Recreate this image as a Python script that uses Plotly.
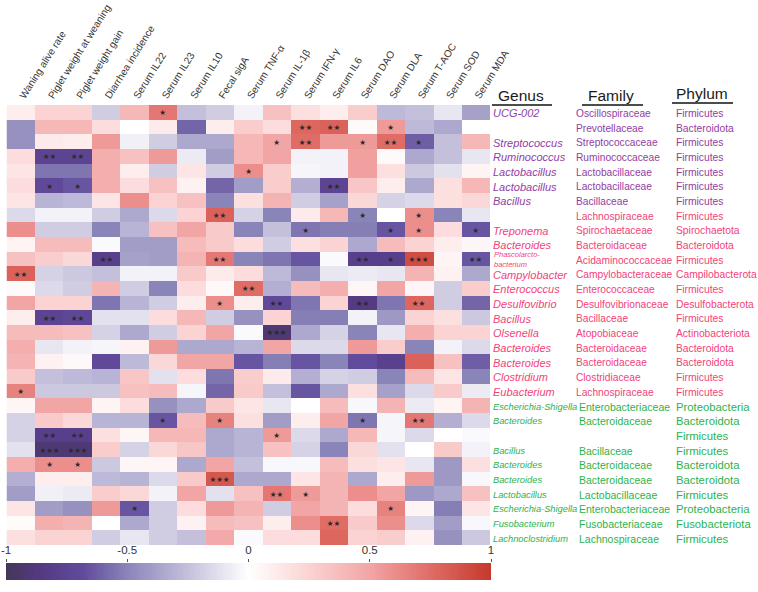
import numpy as np
import plotly.graph_objects as go

indicators = ["Waning alive rate", "Piglet weight at weaning", "Piglet weight gain",
              "Diarrhea incidence", "Serum IL22", "Serum IL23", "Serum IL10", "Fecal sigA",
              "Serum TNF-α", "Serum IL-1β", "Serum IFN-γ", "Serum IL6", "Serum DAO",
              "Serum DLA", "Serum T-AOC", "Serum SOD", "Serum MDA"]

genus = ["UCG-002", "", "Streptococcus", "Ruminococcus", "Lactobacillus", "Lactobacillus",
         "Bacillus", "", "Treponema", "Bacteroides", "Phascolarcto-<br>bacterium", "Campylobacter",
         "Enterococcus", "Desulfovibrio", "Bacillus", "Olsenella", "Bacteroides", "Bacteroides",
         "Clostridium", "Eubacterium", "Escherichia-Shigella", "Bacteroides", "", "Bacillus",
         "Bacteroides", "Bacteroides", "Lactobacillus", "Escherichia-Shigella", "Fusobacterium",
         "Lachnoclostridium"]
family = ["Oscillospiraceae", "Prevotellaceae", "Streptococcaceae", "Ruminococcaceae",
          "Lactobacillaceae", "Lactobacillaceae", "Bacillaceae", "Lachnospiraceae",
          "Spirochaetaceae", "Bacteroidaceae", "Acidaminococcaceae", "Campylobacteraceae",
          "Enterococcaceae", "Desulfovibrionaceae", "Bacillaceae", "Atopobiaceae",
          "Bacteroidaceae", "Bacteroidaceae", "Clostridiaceae", "Lachnospiraceae",
          "Enterobacteriaceae", "Bacteroidaceae", "", "Bacillaceae", "Bacteroidaceae",
          "Bacteroidaceae", "Lactobacillaceae", "Enterobacteriaceae", "Fusobacteriaceae",
          "Lachnospiraceae"]
phylum = ["Firmicutes", "Bacteroidota", "Firmicutes", "Firmicutes", "Firmicutes", "Firmicutes",
          "Firmicutes", "Firmicutes", "Spirochaetota", "Bacteroidota", "Firmicutes",
          "Campilobacterota", "Firmicutes", "Desulfobacterota", "Firmicutes", "Actinobacteriota",
          "Bacteroidota", "Bacteroidota", "Firmicutes", "Firmicutes", "Proteobacteria",
          "Bacteroidota", "Firmicutes", "Firmicutes", "Bacteroidota", "Bacteroidota",
          "Firmicutes", "Proteobacteria", "Fusobacteriota", "Firmicutes"]
group = ["A"] * 7 + ["B"] * 13 + ["C"] * 10

corr = [
    [0.1, 0.25, 0.25, -0.2, 0.4, 0.7, -0.25, -0.2, -0.05, 0.35, 0.18, 0.1, 0.28, -0.28, -0.25, -0.1, -0.38],
    [-0.45, 0.4, 0.4, 0.2, 0.0, 0.12, -0.6, 0.1, 0.28, 0.2, 0.78, 0.8, 0.03, 0.55, -0.28, -0.35, 0.0],
    [-0.45, 0.12, 0.1, 0.55, -0.06, -0.2, -0.35, -0.35, 0.4, 0.5, 0.75, 0.55, 0.55, 0.75, -0.62, -0.25, 0.4],
    [0.2, -0.75, -0.75, 0.45, 0.35, 0.55, -0.08, -0.4, 0.4, 0.5, -0.05, -0.05, 0.52, 0.03, -0.35, -0.25, -0.1],
    [0.15, -0.55, -0.55, 0.45, 0.1, -0.2, 0.15, -0.2, 0.6, 0.28, -0.04, -0.05, 0.52, 0.18, -0.22, -0.12, 0.06],
    [0.2, -0.7, -0.65, 0.45, 0.2, 0.35, 0.08, -0.6, -0.4, 0.28, -0.32, -0.75, 0.32, 0.1, -0.35, 0.18, 0.4],
    [0.15, -0.3, -0.28, 0.15, 0.6, 0.25, 0.35, -0.5, 0.18, 0.42, -0.2, -0.38, 0.22, -0.18, -0.15, 0.18, 0.22],
    [-0.15, -0.05, -0.05, -0.2, -0.35, -0.15, 0.25, 0.8, -0.18, -0.5, 0.12, 0.4, -0.5, 0.0, 0.6, -0.5, -0.1],
    [0.6, -0.2, -0.2, -0.5, -0.3, 0.35, 0.5, 0.3, -0.5, -0.25, -0.55, -0.52, -0.52, -0.65, 0.6, 0.2, -0.65],
    [0.06, 0.38, 0.38, -0.02, -0.4, -0.4, 0.38, 0.3, 0.2, -0.2, 0.18, 0.25, -0.35, 0.38, 0.25, 0.1, 0.05],
    [0.35, 0.28, 0.22, -0.8, -0.38, -0.4, 0.42, 0.7, -0.5, -0.55, -0.65, -0.02, -0.8, -0.8, 0.9, 0.06, -0.65],
    [0.8, -0.18, -0.22, -0.25, -0.05, -0.05, 0.3, 0.12, 0.2, -0.28, -0.45, -0.1, -0.08, -0.1, 0.42, 0.08, -0.35],
    [0.03, -0.15, -0.2, 0.42, -0.2, -0.5, 0.2, 0.04, 0.75, -0.32, 0.38, 0.45, 0.05, 0.5, 0.05, -0.2, 0.28],
    [0.5, 0.25, 0.25, -0.55, -0.3, -0.2, 0.1, 0.6, 0.1, -0.7, -0.55, 0.25, -0.85, -0.55, 0.78, -0.2, -0.6],
    [0.1, -0.75, -0.72, -0.12, -0.12, 0.2, 0.4, -0.2, -0.45, 0.25, -0.52, -0.52, -0.05, -0.42, 0.25, 0.18, -0.22],
    [0.38, 0.38, 0.35, -0.18, -0.35, -0.2, 0.25, 0.5, -0.02, -0.9, -0.35, -0.18, -0.5, -0.1, 0.45, 0.25, 0.25],
    [0.45, -0.1, -0.05, -0.04, 0.08, 0.55, -0.35, -0.35, -0.3, 0.5, -0.15, -0.15, 0.55, 0.28, -0.5, -0.05, -0.15],
    [0.42, 0.08, 0.04, -0.7, -0.28, 0.22, 0.5, 0.5, -0.65, -0.52, -0.65, -0.5, -0.68, -0.78, 0.8, 0.35, -0.62],
    [0.3, -0.25, -0.28, -0.3, 0.32, -0.12, 0.2, -0.55, 0.28, 0.12, -0.32, -0.18, -0.2, -0.5, 0.38, 0.15, -0.5],
    [0.65, -0.22, -0.22, -0.22, 0.35, 0.38, -0.04, -0.6, 0.3, -0.25, -0.65, -0.35, 0.18, -0.38, -0.15, 0.3, -0.08],
    [0.05, 0.5, 0.5, 0.06, 0.2, -0.45, -0.35, 0.3, 0.15, -0.1, 0.0, 0.38, -0.03, 0.42, -0.08, 0.06, 0.42],
    [-0.18, 0.3, 0.22, -0.3, -0.3, -0.65, 0.38, 0.65, 0.18, -0.4, 0.1, 0.5, -0.55, -0.04, 0.7, -0.32, -0.15],
    [-0.18, -0.8, -0.8, 0.18, 0.05, 0.4, 0.4, -0.35, -0.3, 0.55, -0.15, -0.35, 0.4, -0.04, -0.15, 0.0, -0.02],
    [-0.12, -0.9, -0.9, 0.28, -0.18, 0.22, 0.32, -0.35, -0.3, 0.35, -0.18, -0.5, 0.22, -0.12, 0.0, 0.3, -0.05],
    [0.45, 0.6, 0.6, -0.22, 0.05, 0.05, -0.35, 0.5, -0.25, -0.03, -0.03, 0.38, 0.18, 0.15, -0.1, -0.42, 0.18],
    [-0.32, 0.1, 0.1, -0.28, -0.3, -0.15, 0.3, 0.85, -0.35, -0.35, 0.15, 0.42, -0.35, 0.1, 0.55, -0.42, -0.03],
    [-0.4, -0.06, -0.08, 0.28, 0.22, -0.05, 0.5, -0.12, 0.35, 0.7, 0.55, 0.42, 0.6, 0.5, -0.42, -0.35, 0.35],
    [0.15, -0.4, -0.45, 0.55, -0.65, -0.2, 0.2, 0.55, 0.42, -0.2, 0.5, 0.42, 0.2, 0.65, 0.06, -0.52, 0.15],
    [0.02, 0.45, 0.42, 0.0, -0.35, -0.2, 0.08, 0.38, 0.35, 0.1, 0.6, 0.75, 0.3, 0.6, -0.15, -0.4, -0.03],
    [0.18, 0.25, 0.25, -0.2, -0.1, -0.2, -0.25, 0.48, -0.02, 0.2, 0.2, 0.78, 0.25, 0.28, 0.08, -0.45, -0.22],
]

# significance marks: (row, column, number of stars)
signif = [
    (0, 5, 1), (1, 10, 2), (1, 11, 2), (1, 13, 1),
    (2, 9, 1), (2, 10, 2), (2, 12, 1), (2, 13, 2), (2, 14, 1),
    (3, 1, 2), (3, 2, 2), (4, 8, 1), (5, 1, 1), (5, 2, 1), (5, 11, 2),
    (7, 7, 2), (7, 12, 1), (7, 14, 1),
    (8, 10, 1), (8, 13, 1), (8, 14, 1), (8, 16, 1),
    (10, 3, 2), (10, 7, 2), (10, 12, 2), (10, 13, 1), (10, 14, 3), (10, 16, 2),
    (11, 0, 2), (12, 8, 2), (13, 7, 1), (13, 9, 2), (13, 12, 2), (13, 14, 2),
    (14, 1, 2), (14, 2, 2), (15, 9, 3), (19, 0, 1),
    (21, 5, 1), (21, 7, 1), (21, 12, 1), (21, 14, 2),
    (22, 1, 2), (22, 2, 2), (22, 9, 1), (23, 1, 3), (23, 2, 3), (24, 1, 1), (24, 2, 1),
    (25, 7, 3), (26, 9, 2), (26, 10, 1), (27, 4, 1), (27, 13, 1), (28, 11, 2),
]

scale_ticks = [-1, -0.5, 0, 0.5, 1]
scale_labels = ["-1", "-0.5", "0", "0.5", "1"]

W, H = 758, 592
colorscale = [
    [0.0, "#45365a"], [0.08, "#553b85"], [0.16, "#614b9c"], [0.25, "#8a85b8"],
    [0.375, "#c4c0dc"], [0.5, "#ffffff"], [0.625, "#fbd3d3"], [0.75, "#f2a5a5"],
    [0.875, "#e06c66"], [1.0, "#c5392b"],
]

nrow, ncol = len(corr), len(indicators)
star_text = [["" for _ in range(ncol)] for _ in range(nrow)]
for r, c, n in signif:
    star_text[r][c] = "★" * n

fig = go.Figure()
fig.add_trace(go.Heatmap(
    z=corr, x=list(range(ncol)), y=list(range(nrow)),
    zmin=-1, zmax=1, colorscale=colorscale, showscale=False,
    text=star_text, texttemplate="%{text}",
    textfont=dict(size=7.5, color="#2a2a2a", family="DejaVu Sans"),
    hoverinfo="skip", xaxis="x", yaxis="y",
))

legend_scale = np.linspace(-0.995, 0.995, 200)
fig.add_trace(go.Heatmap(
    z=[legend_scale], x=legend_scale, y=[0], zmin=-1, zmax=1,
    colorscale=colorscale, showscale=False, hoverinfo="skip",
    xaxis="x2", yaxis="y2",
))

colors = {"A": "#923da3", "B": "#f2437a", "C": "#2cb34c"}

ann = []
for i in range(nrow):
    col = colors[group[i]]
    green = group[i] == "C"
    if genus[i]:
        if "<br>" in genus[i]:
            parts = genus[i].split("<br>")
            txt = "<br>".join("<i>%s</i>" % p for p in parts)
            ann.append(dict(x=492 / W, xref="paper", y=i, yref="y", text=txt,
                            xanchor="left", yanchor="middle", showarrow=False,
                            font=dict(size=7.5, color=col, family="Arial"),
                            align="left"))
        else:
            ann.append(dict(x=491 / W, xref="paper", y=i, yref="y",
                            text="<i>%s</i>" % genus[i], xanchor="left",
                            yanchor="middle", showarrow=False, yshift=-1,
                            font=dict(size=9.3 if green else 11, color=col, family="Arial")))
    if family[i]:
        ann.append(dict(x=(577 if green else 574) / W, xref="paper", y=i, yref="y",
                        text=family[i], xanchor="left", yanchor="middle", showarrow=False,
                        yshift=-1,
                        font=dict(size=10.5 if green else 10.2, color=col, family="Arial")))
    ann.append(dict(x=674 / W, xref="paper", y=i, yref="y", text=phylum[i],
                    xanchor="left", yanchor="middle", showarrow=False, yshift=-1,
                    font=dict(size=11.3 if green else 10.3, color=col, family="Arial")))

for title, cx, cy in [("Genus", 521, 95), ("Family", 611, 95), ("Phylum", 702, 93)]:
    ann.append(dict(x=cx / W, xref="paper", y=1 - cy / H, yref="paper", text=title,
                    xanchor="center", yanchor="middle", showarrow=False,
                    font=dict(size=15.5, color="#1a1a1a", family="Arial")))

shapes = []
for x0, x1, yy in [(492, 552, 105), (582, 643, 105), (672, 733, 103)]:
    shapes.append(dict(type="line", xref="paper", yref="paper", x0=x0 / W, x1=x1 / W,
                       y0=1 - yy / H, y1=1 - yy / H, line=dict(color="#111", width=1.5)))

fig.update_layout(
    width=W, height=H, margin=dict(l=0, r=0, t=0, b=0, autoexpand=False),
    paper_bgcolor="white", plot_bgcolor="white",
    font=dict(family="Arial", color="#333"),
    annotations=ann, shapes=shapes,
    xaxis=dict(domain=[6.5 / W, 490 / W], range=[-0.5, ncol - 0.5], side="top",
               tickvals=list(range(ncol)), ticktext=indicators, tickangle=-58,
               tickfont=dict(size=10.1, color="#333", family="Arial"), automargin=False,
               showgrid=False, zeroline=False, showline=False, ticks="", anchor="y"),
    yaxis=dict(domain=[1 - 545 / H, 1 - 105 / H], range=[nrow - 0.5, -0.5], automargin=False,
               showticklabels=False, showgrid=False, zeroline=False, ticks="", anchor="x"),
    xaxis2=dict(domain=[6 / W, 491 / W], range=[-1, 1], side="top", anchor="y2",
                tickvals=scale_ticks, ticktext=scale_labels, ticks="outside", ticklen=3,
                tickcolor="#555", tickfont=dict(size=11.5, color="#333", family="Arial"),
                automargin=False, showgrid=False, zeroline=False, showline=False),
    yaxis2=dict(domain=[1 - 580 / H, 1 - 563 / H], range=[-0.5, 0.5], anchor="x2",
                automargin=False, showticklabels=False, showgrid=False, zeroline=False,
                ticks=""),
)

fig.write_html("out.html", config={"displayModeBar": False},
               post_script="document.body.style.margin='0px';")
